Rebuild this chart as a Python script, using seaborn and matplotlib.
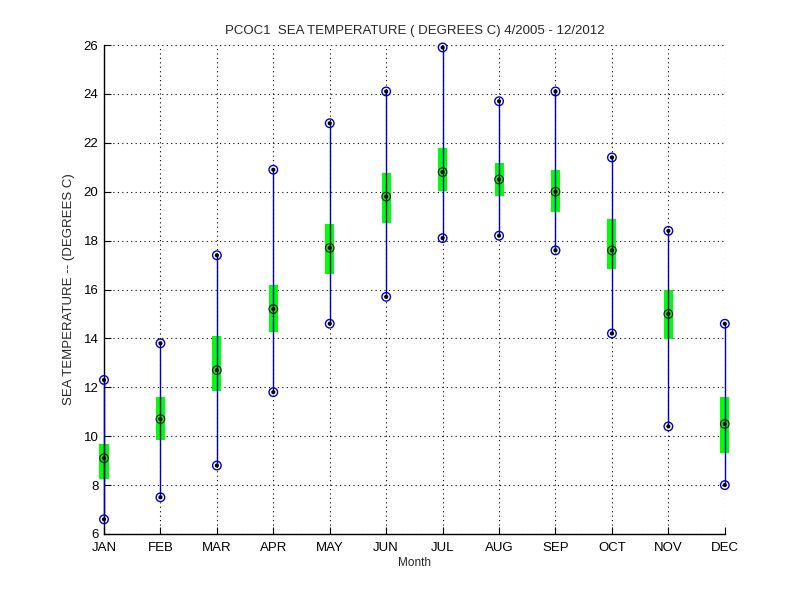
import numpy as np
import pandas as pd
import matplotlib
matplotlib.use("Agg")
import matplotlib.pyplot as plt
import seaborn as sns

# monthly sea temperature stats
months = ["JAN", "FEB", "MAR", "APR", "MAY", "JUN", "JUL", "AUG", "SEP", "OCT", "NOV", "DEC"]
t_min = [6.6, 7.5, 8.8, 11.8, 14.6, 15.7, 18.1, 18.2, 17.6, 14.2, 10.4, 8.0]
t_max = [12.3, 13.8, 17.4, 20.9, 22.8, 24.1, 25.9, 23.7, 24.1, 21.4, 18.4, 14.6]
t_med = [9.1, 10.7, 12.7, 15.2, 17.7, 19.8, 20.8, 20.5, 20.0, 17.6, 15.0, 10.5]
q_low = [8.25, 9.83, 11.84, 14.25, 16.65, 18.73, 20.03, 19.84, 19.15, 16.83, 13.96, 9.33]
q_high = [9.68, 11.59, 14.1, 16.18, 18.68, 20.75, 21.78, 21.16, 20.89, 18.88, 15.98, 11.6]

df = pd.DataFrame({"month": np.arange(1, 13), "tmin": t_min, "tmax": t_max,
                   "med": t_med, "q1": q_low, "q3": q_high})

sns.set_style("white")
plt.rcParams['font.family'] = ['Liberation Sans', 'DejaVu Sans']

fig = plt.figure(figsize=(8, 6), dpi=100)
ax = fig.add_axes([0.13, 0.11, 0.776, 0.815])

# green interquartile bars
ax.bar(df["month"], df["q3"] - df["q1"], bottom=df["q1"], width=0.16,
       color="#00ff00", edgecolor="none", zorder=2, clip_on=False)
# blue range lines
ax.vlines(df["month"], df["tmin"], df["tmax"], color="#0000bb", lw=1.0,
          zorder=3, clip_on=False)

ext = pd.concat([df[["month", "tmin"]].rename(columns={"tmin": "v"}),
                 df[["month", "tmax"]].rename(columns={"tmax": "v"})])
sns.scatterplot(data=ext, x="month", y="v", ax=ax, marker="o", s=38,
                facecolor="none", edgecolor="#0000cc", linewidth=1.0,
                zorder=4, clip_on=False)
sns.scatterplot(data=df, x="month", y="med", ax=ax, marker="o", s=38,
                facecolor="none", edgecolor="#222222", linewidth=0.9,
                zorder=4, clip_on=False)
allpts = pd.concat([ext, df[["month", "med"]].rename(columns={"med": "v"})])
sns.scatterplot(data=allpts, x="month", y="v", ax=ax, marker="o", s=9,
                color="black", edgecolor="none", zorder=5, clip_on=False)

ax.set_xlim(1, 12)
ax.set_ylim(6, 26)
ax.set_xticks(df["month"])
ax.set_xticklabels(months)
ax.set_yticks(np.arange(6, 27, 2))
ax.tick_params(direction="in", length=5, width=0.8, labelsize=9.5,
               colors="black", bottom=True, left=True)
ax.tick_params(axis="x", pad=6)
ax.tick_params(axis="y", pad=4)
ax.grid(True, linestyle=(0, (1, 3)), color="black", lw=0.8)
for s in ["top", "right"]:
    ax.spines[s].set_visible(False)
for s in ["left", "bottom"]:
    ax.spines[s].set_color("black")
    ax.spines[s].set_linewidth(1.0)

ax.set_title("PCOC1  SEA TEMPERATURE ( DEGREES C) 4/2005 - 12/2012", fontsize=9.5, pad=8)
ax.set_xlabel("Month", fontsize=8.5, labelpad=2)
ax.set_ylabel("SEA TEMPERATURE -- (DEGREES C)", fontsize=9.5, labelpad=6)

fig.savefig("out.png", dpi=100)
